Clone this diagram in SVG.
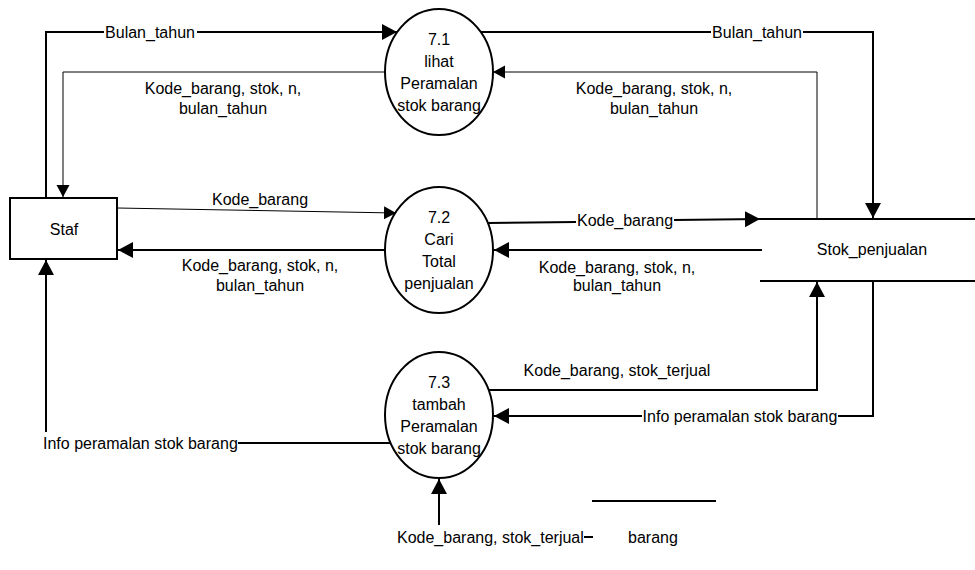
<svg xmlns="http://www.w3.org/2000/svg" width="975" height="570" viewBox="0 0 975 570">
<style>
text{font-family:"Liberation Sans",Arial,sans-serif;font-size:16px;fill:#000}
.m{text-anchor:middle}
.thick{fill:none;stroke:#000;stroke-width:2}
.thin{fill:none;stroke:#000;stroke-width:1}
.node{fill:#fff;stroke:#000;stroke-width:2}
</style>
<defs>
<marker id="ah" markerUnits="userSpaceOnUse" markerWidth="16" markerHeight="17" refX="15" refY="8" orient="auto"><path d="M0,0 L15,8 L0,16 z" fill="#000"/></marker>
<marker id="as" markerUnits="userSpaceOnUse" markerWidth="13" markerHeight="14" refX="12" refY="6.5" orient="auto"><path d="M0,0 L12,6.5 L0,13 z" fill="#000"/></marker>
</defs>
<rect width="975" height="570" fill="#fff"/>
<g id="connectors">
<path class="thick" d="M46,198 L46,32 L104,32"/>
<path class="thick" d="M197,32 L397,32" marker-end="url(#ah)"/>
<path class="thin" d="M385,72 L63,72 L63,197" marker-end="url(#as)"/>
<path class="thick" d="M481,32 L711,32"/>
<path class="thick" d="M803,32 L873,32 L873,218" marker-end="url(#ah)"/>
<path class="thin" d="M817,219 L817,72 L493,72" marker-end="url(#as)"/>
<path class="thin" d="M117,208 L396,213" marker-end="url(#as)"/>
<path class="thick" d="M385,250 L118,250" marker-end="url(#ah)"/>
<path class="thick" d="M488,223 L576,222"/>
<path class="thick" d="M674,220 L760,219" marker-end="url(#ah)"/>
<path class="thick" d="M762,250 L494,250" marker-end="url(#ah)"/>
<path class="thick" d="M489,390 L817,390 L817,282" marker-end="url(#ah)"/>
<path class="thick" d="M873,281 L873,416 L838,416"/>
<path class="thick" d="M642,416 L494,416" marker-end="url(#ah)"/>
<path class="thick" d="M390,443 L238,443"/>
<path class="thick" d="M46,432 L46,260" marker-end="url(#ah)"/>
<path class="thick" d="M439,525 L439,479" marker-end="url(#ah)"/>
<path class="thick" d="M584,537 L593,537"/>
</g>
<g id="labels">
<text class="m" x="150" y="38">Bulan_tahun</text>
<text class="m" x="757" y="38">Bulan_tahun</text>
<text class="m" x="223" y="94">Kode_barang, stok, n,</text>
<text class="m" x="223" y="114">bulan_tahun</text>
<text class="m" x="654" y="94">Kode_barang, stok, n,</text>
<text class="m" x="654" y="114">bulan_tahun</text>
<text class="m" x="260" y="205">Kode_barang</text>
<text class="m" x="260" y="271">Kode_barang, stok, n,</text>
<text class="m" x="260" y="291">bulan_tahun</text>
<text class="m" x="625" y="226">Kode_barang</text>
<text class="m" x="617" y="273">Kode_barang, stok, n,</text>
<text class="m" x="617" y="291">bulan_tahun</text>
<text class="m" x="617" y="376">Kode_barang, stok_terjual</text>
<text class="m" x="740" y="422">Info peramalan stok barang</text>
<text x="43" y="449">Info peramalan stok barang</text>
<text x="397" y="543">Kode_barang, stok_terjual</text>
</g>
<g id="staf">
<rect class="node" x="10" y="198" width="107" height="61"/>
<text class="m" x="64" y="235">Staf</text>
</g>
<g id="p71">
<ellipse class="node" cx="439" cy="72" rx="54" ry="63"/>
<text class="m" x="439" y="45">7.1</text>
<text class="m" x="439" y="67">lihat</text>
<text class="m" x="439" y="89">Peramalan</text>
<text class="m" x="439" y="111">stok barang</text>
</g>
<g id="p72">
<ellipse class="node" cx="439" cy="250" rx="54" ry="63"/>
<text class="m" x="439" y="223">7.2</text>
<text class="m" x="439" y="245">Cari</text>
<text class="m" x="439" y="267">Total</text>
<text class="m" x="439" y="289">penjualan</text>
</g>
<g id="p73">
<ellipse class="node" cx="439" cy="415" rx="54" ry="63"/>
<text class="m" x="439" y="388">7.3</text>
<text class="m" x="439" y="410">tambah</text>
<text class="m" x="439" y="432">Peramalan</text>
<text class="m" x="439" y="454">stok barang</text>
</g>
<g id="stok_penjualan">
<path class="thick" d="M760,219 L975,219 M760,281 L975,281"/>
<text class="m" x="872" y="255">Stok_penjualan</text>
</g>
<g id="barang">
<path class="thick" d="M592,501 L716,501"/>
<text x="628" y="543">barang</text>
</g>
</svg>
